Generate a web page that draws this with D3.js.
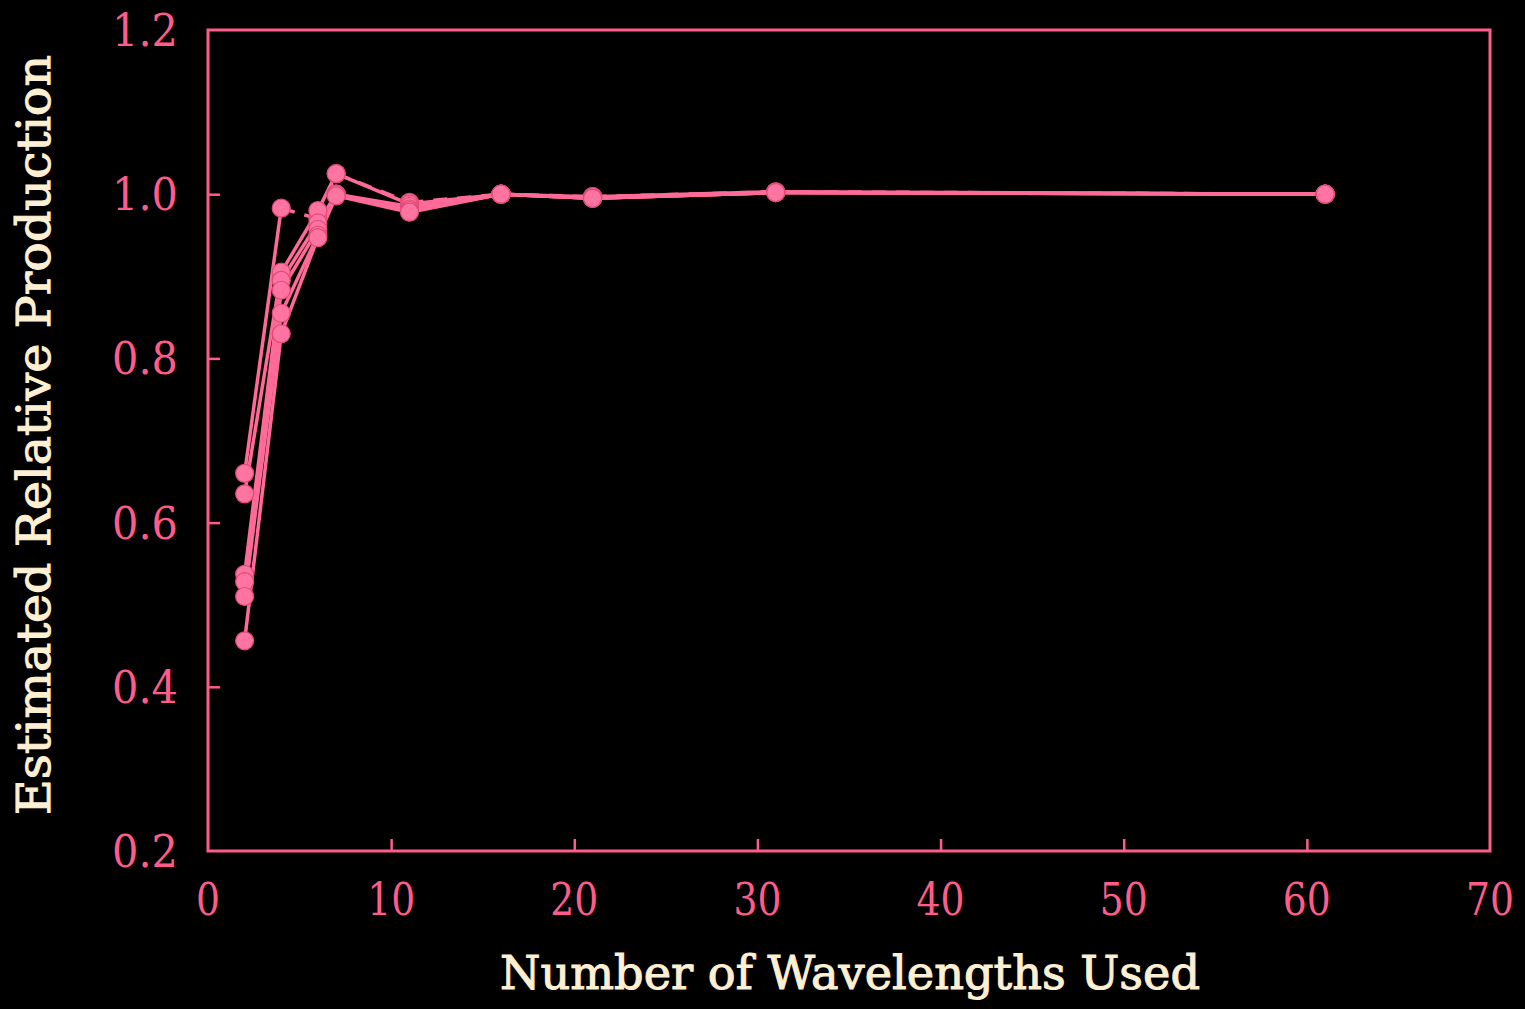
<!DOCTYPE html>
<html>
<head>
<meta charset="utf-8">
<script src="https://cdn.jsdelivr.net/npm/d3@7"></script>
<style>
  html, body { margin: 0; padding: 0; background: #000; }
  svg { display: block; }
</style>
</head>
<body>
<svg id="chart" width="1525" height="1009"></svg>
<script>
// Number of wavelengths used in each estimate
const wavelengths = [2, 4, 6, 7, 11, 16, 21, 31, 61];

// Estimated relative production, one array per run
const run1 = [0.660, 0.983, 0.970, 1.025, 0.990, 1.000, 0.997, 1.003, 1.000];
const run2 = [0.635, 0.905, 0.980, 1.025, 0.988, 1.000, 0.997, 1.003, 1.000];
const run3 = [0.537, 0.895, 0.965, 1.000, 0.985, 1.000, 0.995, 1.002, 1.000];
const run4 = [0.528, 0.883, 0.957, 1.000, 0.982, 1.000, 0.995, 1.002, 1.000];
const run5 = [0.510, 0.855, 0.950, 1.000, 0.980, 1.000, 0.995, 1.002, 1.000];
const run6 = [0.456, 0.830, 0.947, 0.998, 0.978, 1.000, 0.995, 1.002, 1.000];
const runs = [run1, run2, run3, run4, run5, run6];
// index of the first point after which a run is drawn dashed (-1 = solid)
const dashedFrom = [1, -1, -1, -1, -1, -1];

const xTicks = [0, 10, 20, 30, 40, 50, 60, 70];
const yTicks = [0.2, 0.4, 0.6, 0.8, 1.0, 1.2];

const xTitle = "Number of Wavelengths Used";
const yTitle = "Estimated Relative Production";

const pink = "#ff5c8a";
const lineCol = "#ff6a98";
const dotFill = "#ff74a2";
const cream = "#fcefd2";
const serif = "'DejaVu Serif', 'Liberation Serif', serif";

const svg = d3.select("#chart");
svg.append("rect").attr("width", 1525).attr("height", 1009).attr("fill", "#000");

const plot = { left: 208, right: 1490, top: 30, bottom: 851 };

const x = d3.scaleLinear().domain([0, 70]).range([plot.left, plot.right]);
const y = d3.scaleLinear().domain([0.2, 1.2]).range([plot.bottom, plot.top]);

// Frame
svg.append("rect")
  .attr("x", plot.left).attr("y", plot.top)
  .attr("width", plot.right - plot.left).attr("height", plot.bottom - plot.top)
  .attr("fill", "none").attr("stroke", pink).attr("stroke-width", 3);

// Bottom axis: inward ticks
const xAxis = d3.axisBottom(x).tickValues(xTicks).tickSizeInner(-12).tickSizeOuter(0).tickFormat("");
const gx = svg.append("g").attr("transform", `translate(0,${plot.bottom})`).call(xAxis);
gx.select(".domain").remove();
gx.selectAll(".tick line").attr("stroke", pink).attr("stroke-width", 2.5)
  .filter(d => d === 0 || d === 70).remove();

// Left axis: inward ticks
const yAxis = d3.axisLeft(y).tickValues(yTicks).tickSizeInner(-12).tickSizeOuter(0).tickFormat("");
const gy = svg.append("g").attr("transform", `translate(${plot.left},0)`).call(yAxis);
gy.select(".domain").remove();
gy.selectAll(".tick line").attr("stroke", pink).attr("stroke-width", 2.5)
  .filter(d => d === 0.2 || d === 1.2).remove();

// Tick labels: narrow serif digits
const charW = 24;
svg.append("g").selectAll("text").data(xTicks).join("text")
  .attr("x", d => x(d)).attr("y", plot.bottom + 64)
  .attr("text-anchor", "middle")
  .attr("font-family", serif).attr("font-size", 45)
  .attr("textLength", d => String(d).length * charW)
  .attr("lengthAdjust", "spacingAndGlyphs")
  .attr("fill", pink)
  .text(d => d);

svg.append("g").selectAll("text").data(yTicks).join("text")
  .attr("x", 178).attr("y", d => y(d) + 16)
  .attr("text-anchor", "end")
  .attr("font-family", serif).attr("font-size", 45)
  .attr("textLength", 66)
  .attr("lengthAdjust", "spacingAndGlyphs")
  .attr("fill", pink)
  .text(d => d.toFixed(1));

// Axis titles
svg.append("text")
  .attr("x", 850).attr("y", 989)
  .attr("text-anchor", "middle")
  .attr("font-family", serif).attr("font-size", 47)
  .attr("textLength", 700).attr("lengthAdjust", "spacingAndGlyphs")
  .attr("fill", cream).attr("stroke", cream).attr("stroke-width", 1.1)
  .text(xTitle);

svg.append("text")
  .attr("transform", "translate(50,435) rotate(-90)")
  .attr("text-anchor", "middle")
  .attr("font-family", serif).attr("font-size", 46)
  .attr("textLength", 760).attr("lengthAdjust", "spacingAndGlyphs")
  .attr("fill", cream).attr("stroke", cream).attr("stroke-width", 1.1)
  .text(yTitle);

// Lines, drawn segment by segment so part of a run can be dashed
const line = d3.line().x(d => x(d[0])).y(d => y(d[1]));
const gLines = svg.append("g");
runs.forEach((vals, i) => {
  const pts = wavelengths.map((w, j) => [w, vals[j]]);
  for (let j = 0; j < pts.length - 1; j++) {
    const dashed = dashedFrom[i] >= 0 && j >= dashedFrom[i];
    gLines.append("path")
      .attr("d", line([pts[j], pts[j + 1]]))
      .attr("fill", "none")
      .attr("stroke", lineCol)
      .attr("stroke-width", 3.5)
      .attr("stroke-dasharray", dashed ? "14,10" : null);
  }
});

// Markers
const gDots = svg.append("g");
runs.forEach(vals => {
  gDots.selectAll(null).data(wavelengths.map((w, j) => [w, vals[j]])).join("circle")
    .attr("cx", d => x(d[0])).attr("cy", d => y(d[1]))
    .attr("r", 9)
    .attr("fill", dotFill).attr("stroke", "#e04a74").attr("stroke-width", 1.2);
});
</script>
</body>
</html>
